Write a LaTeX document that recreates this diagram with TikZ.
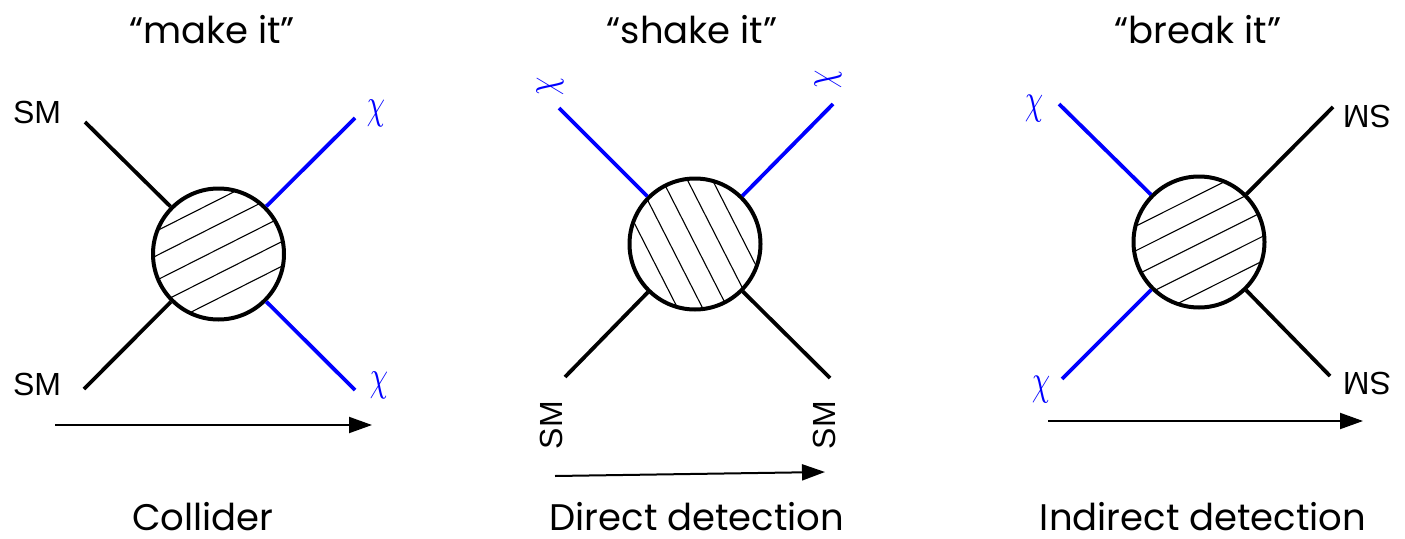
\documentclass[tikz,border=0pt]{standalone}
\usepackage{fontspec}
\newfontfamily\titlefont{Poppins}
\newfontfamily\smfont{Liberation Sans}
\usetikzlibrary{arrows.meta}
\definecolor{chiblue}{RGB}{0,0,255}
\newcommand{\bigchi}{\scalebox{2.9}[4.3]{$\chi$}}
\begin{document}
\begin{tikzpicture}[x=1pt,y=-1pt,
  leg/.style={line width=3.8pt, line cap=butt},
  blueleg/.style={leg, draw=chiblue},
  blackleg/.style={leg, draw=black},
  blob/.style={circle, draw, line width=4pt, minimum size=131pt, inner sep=0pt},
  hatchline/.style={line width=1.1pt},
  flowarrow/.style={line width=2pt, -{Triangle[length=23pt,width=16pt]}},
  title/.style={font=\titlefont\fontsize{37}{42}\selectfont, inner sep=0pt},
  bottomtitle/.style={title, anchor=base, text depth=0pt},
  smlabel/.style={font=\smfont\fontsize{32}{36}\selectfont, inner sep=0pt},
  chilabel/.style={text=chiblue, inner sep=0pt}]
\useasboundingbox (0,0) rectangle (1405,538);

% ---------- Collider ----------
\node[title] (t1) at (212,30) {“make it”};
\node[bottomtitle] (b1) at (203,530) {Collider};
\node[blob] (c1) at (218.5,254) {};
\begin{scope}
  \clip (218.5,254) circle (65pt);
  \begin{scope}[shift={(218.5,254)}, rotate=26.8]
    \foreach \k in {-2,...,2} \draw[hatchline] (-90,-4.5+\k*22) -- (90,-4.5+\k*22);
  \end{scope}
\end{scope}
\coordinate (a1) at (85,122);
\coordinate (a2) at (84,389);
\coordinate (a3) at (355,118);
\coordinate (a4) at (355,390);
\draw[blackleg] (a1) -- (c1);
\draw[blackleg] (a2) -- (c1);
\draw[blueleg] (a3) -- (c1);
\draw[blueleg] (a4) -- (c1);
\node[smlabel] (s1) at (37,112) {SM};
\node[smlabel] (s2) at (37,384) {SM};
\node[chilabel] (x1) at (376,113) {\bigchi};
\node[chilabel] (x2) at (379,385) {\bigchi};
\coordinate (r1s) at (55,425);
\coordinate (r1e) at (372,425);
\draw[flowarrow] (r1s) -- (r1e);

% ---------- Direct detection ----------
\node[title] (t2) at (692,30) {“shake it”};
\node[bottomtitle] (b2) at (697,530) {Direct detection};
\node[blob] (c2) at (695,244) {};
\begin{scope}
  \clip (695,244) circle (65pt);
  \begin{scope}[shift={(695,244)}, rotate=-63]
    \foreach \k in {-2,...,2} \draw[hatchline] (-90,\k*22.3) -- (90,\k*22.3);
  \end{scope}
\end{scope}
\coordinate (d1) at (559,108);
\coordinate (d2) at (833,104);
\coordinate (d3) at (565,377);
\coordinate (d4) at (830,378);
\draw[blueleg] (d1) -- (c2);
\draw[blueleg] (d2) -- (c2);
\draw[blackleg] (d3) -- (c2);
\draw[blackleg] (d4) -- (c2);
\node[chilabel, rotate=90] (x3) at (550,86) {\bigchi};
\node[chilabel, rotate=90] (x4) at (828,79) {\bigchi};
\node[smlabel, rotate=90] (s3) at (551,425) {SM};
\node[smlabel, rotate=90] (s4) at (824,425) {SM};
\coordinate (r2s) at (555,476);
\coordinate (r2e) at (825,472);
\draw[flowarrow] (r2s) -- (r2e);

% ---------- Indirect detection ----------
\node[title] (t3) at (1198,30) {“break it”};
\node[bottomtitle] (b3) at (1203,530) {Indirect detection};
\node[blob] (c3) at (1199,242) {};
\begin{scope}
  \clip (1199,242) circle (65pt);
  \begin{scope}[shift={(1199,242)}, rotate=26.6]
    \foreach \k in {-2,...,2} \draw[hatchline] (-90,1.5+\k*22) -- (90,1.5+\k*22);
  \end{scope}
\end{scope}
\coordinate (i1) at (1059,104);
\coordinate (i2) at (1333,107);
\coordinate (i3) at (1062,379);
\coordinate (i4) at (1330,376);
\draw[blueleg] (i1) -- (c3);
\draw[blackleg] (i2) -- (c3);
\draw[blueleg] (i3) -- (c3);
\draw[blackleg] (i4) -- (c3);
\node[chilabel, rotate=180] (x5) at (1034,109) {\bigchi};
\node[chilabel, rotate=180] (x6) at (1041,390) {\bigchi};
\node[smlabel, rotate=180] (s5) at (1367,117) {SM};
\node[smlabel, rotate=180] (s6) at (1367,384) {SM};
\coordinate (r3s) at (1048,421);
\coordinate (r3e) at (1363,421);
\draw[flowarrow] (r3s) -- (r3e);
\end{tikzpicture}
\end{document}
